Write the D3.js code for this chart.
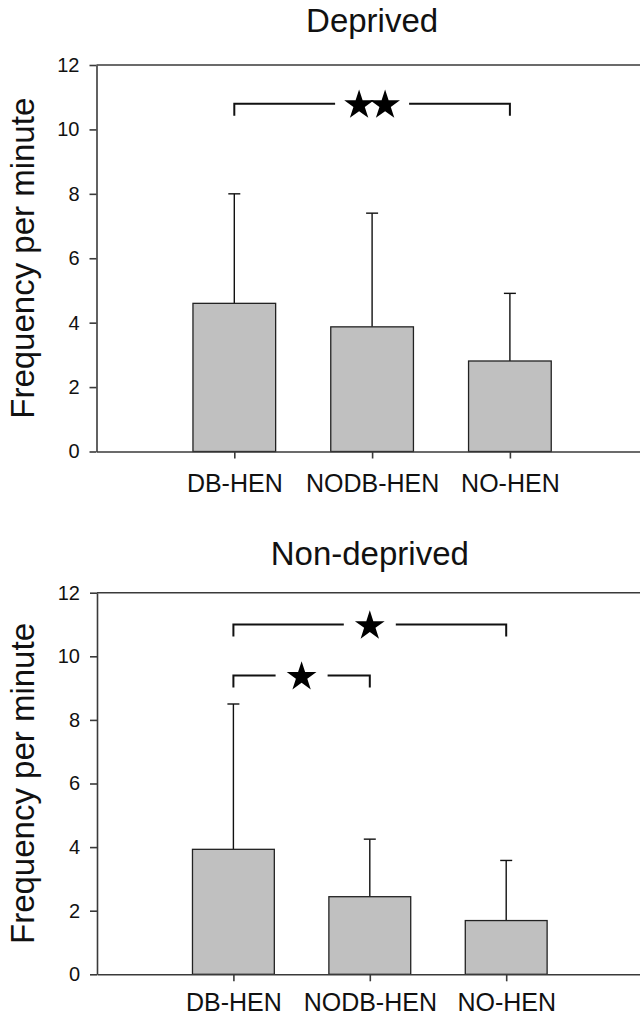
<!DOCTYPE html>
<html>
<head>
<meta charset="utf-8">
<script src="https://cdn.jsdelivr.net/npm/d3@7"></script>
<style>
    body { margin: 0; background: #fff; }
    svg { display: block; font-family: "Liberation Sans", Arial, Helvetica, sans-serif; }
    .tick text { fill: #111; }
</style>
</head>
<body>
<svg id="chart" width="640" height="1016"></svg>
<script>
var CATEGORIES = ["DB-HEN", "NODB-HEN", "NO-HEN"];
var Y_TICKS = [0, 2, 4, 6, 8, 10, 12];

var DEPRIVED_MEANS = [4.6, 3.87, 2.81];
var DEPRIVED_ERRORS = [3.4, 3.53, 2.1];
var DEPRIVED_BRACKETS = [
    { from: "DB-HEN", to: "NO-HEN", level: 10.8, stars: 2 }
];

var NONDEPRIVED_MEANS = [3.93, 2.44, 1.69];
var NONDEPRIVED_ERRORS = [4.57, 1.81, 1.89];
var NONDEPRIVED_BRACKETS = [
    { from: "DB-HEN", to: "NO-HEN", level: 11.0, stars: 1 },
    { from: "DB-HEN", to: "NODB-HEN", level: 9.4, stars: 1 }
];

var AXIS_COLOR = "#3a3a3a";
var BAR_FILL = "#c0c0c0";

var svg = d3.select("#chart");

function drawPanel(opts) {
    var g = svg.append("g");
    var rows = CATEGORIES.map(function (c, i) {
        return { cat: c, mean: opts.means[i], err: opts.errors[i] };
    });

    var x = d3.scalePoint().domain(CATEGORIES)
        .range([opts.left, opts.left + 4 * opts.step]).padding(1);
    var y = d3.scaleLinear().domain([0, 12]).range([opts.bottom, opts.top]);
    var barW = x.step() * 0.6;

    // title
    g.append("text")
        .attr("x", x("NODB-HEN"))
        .attr("y", opts.titleY)
        .attr("text-anchor", "middle")
        .attr("font-size", 33)
        .attr("fill", "#111")
        .text(opts.title);

    // y label
    g.append("text")
        .attr("transform", "translate(34," + ((opts.top + opts.bottom) / 2) + ") rotate(-90)")
        .attr("text-anchor", "middle")
        .attr("font-size", 33)
        .attr("fill", "#111")
        .text("Frequency per minute");

    // top frame line
    g.append("line")
        .attr("x1", opts.left).attr("x2", x.range()[1])
        .attr("y1", y(12)).attr("y2", y(12))
        .attr("stroke", AXIS_COLOR).attr("stroke-width", 1.6);

    // error bars (upper only)
    var eb = g.selectAll(".err").data(rows).enter().append("g").attr("class", "err")
        .attr("stroke", "#111").attr("stroke-width", 1.4);
    eb.append("line")
        .attr("x1", function (d) { return x(d.cat); })
        .attr("x2", function (d) { return x(d.cat); })
        .attr("y1", function (d) { return y(d.mean); })
        .attr("y2", function (d) { return y(d.mean + d.err); });
    eb.append("line")
        .attr("x1", function (d) { return x(d.cat) - 6; })
        .attr("x2", function (d) { return x(d.cat) + 6; })
        .attr("y1", function (d) { return y(d.mean + d.err); })
        .attr("y2", function (d) { return y(d.mean + d.err); });

    // bars
    g.selectAll(".bar").data(rows).enter().append("rect").attr("class", "bar")
        .attr("x", function (d) { return x(d.cat) - barW / 2; })
        .attr("width", barW)
        .attr("y", function (d) { return y(d.mean); })
        .attr("height", function (d) { return y(0) - y(d.mean); })
        .attr("fill", BAR_FILL)
        .attr("stroke", "#222")
        .attr("stroke-width", 1.3);

    // axes
    var yAxis = d3.axisLeft(y).tickValues(Y_TICKS).tickSize(7).tickSizeOuter(0).tickPadding(10);
    var ya = g.append("g").attr("transform", "translate(" + opts.left + ",0)").call(yAxis);
    ya.selectAll("text").attr("font-size", 20).attr("font-family", null);

    var xAxis = d3.axisBottom(x).tickSize(7).tickSizeOuter(0).tickPadding(opts.labelPad);
    var xa = g.append("g").attr("transform", "translate(0," + opts.bottom + ")").call(xAxis);
    xa.selectAll("text").attr("font-size", 25).attr("font-family", null);

    [ya, xa].forEach(function (a) {
        a.selectAll("path, line").attr("stroke", AXIS_COLOR).attr("stroke-width", 1.6);
    });

    // significance brackets
    var star = d3.symbol().type(d3.symbolStar).size(275);
    opts.brackets.forEach(function (b) {
        var x1 = x(b.from), x2 = x(b.to), yy = y(b.level);
        var mid = (x1 + x2) / 2;
        var gap = b.stars === 2 ? 37 : 26;
        var bg = g.append("g").attr("stroke", "#111").attr("stroke-width", 2).attr("fill", "none");
        bg.append("path").attr("d", "M" + x1 + "," + (yy + 12) + "V" + yy + "H" + (mid - gap));
        bg.append("path").attr("d", "M" + (mid + gap) + "," + yy + "H" + x2 + "V" + (yy + 12));
        d3.range(b.stars).forEach(function (k) {
            var sx = mid + (k - (b.stars - 1) / 2) * 26;
            g.append("path").attr("d", star)
                .attr("transform", "translate(" + sx + "," + (yy + 1.5) + ")")
                .attr("fill", "#000");
        });
    });
}

drawPanel({
    title: "Deprived", titleY: 32,
    means: DEPRIVED_MEANS, errors: DEPRIVED_ERRORS, brackets: DEPRIVED_BRACKETS,
    left: 96.5, step: 137.8, top: 65, bottom: 451.5, labelPad: 16
});

drawPanel({
    title: "Non-deprived", titleY: 565,
    means: NONDEPRIVED_MEANS, errors: NONDEPRIVED_ERRORS, brackets: NONDEPRIVED_BRACKETS,
    left: 97, step: 136.4, top: 592.7, bottom: 974.3, labelPad: 12
});
</script>
</body>
</html>
